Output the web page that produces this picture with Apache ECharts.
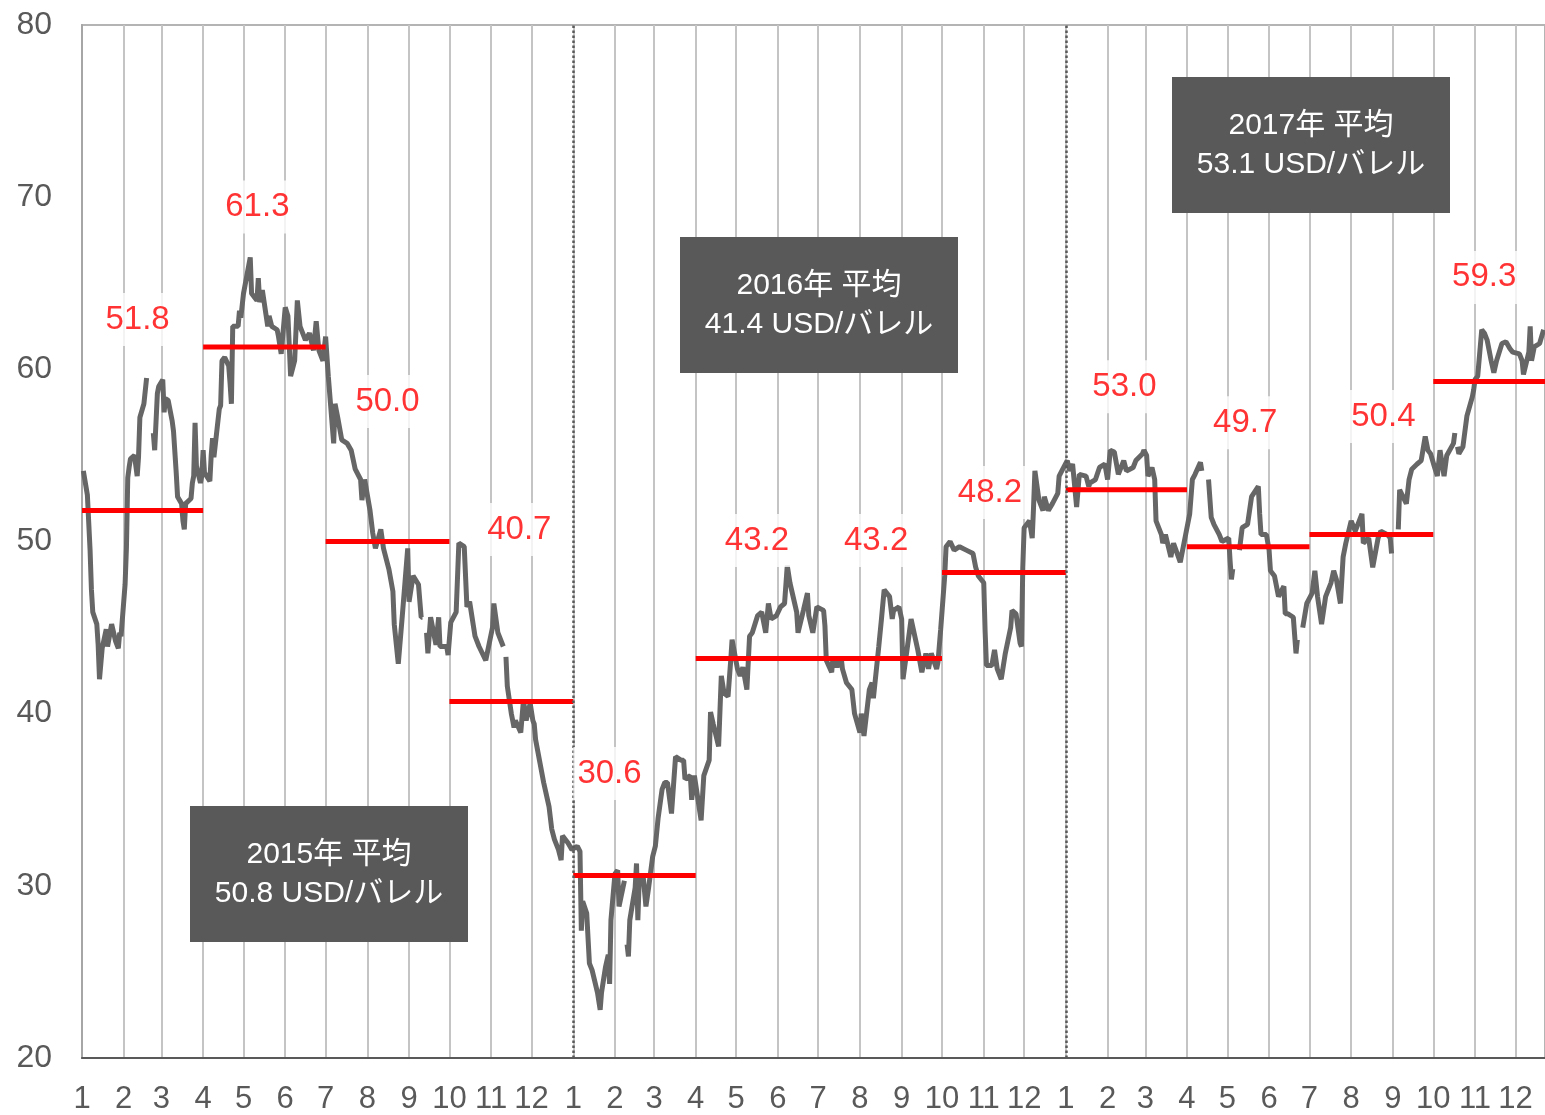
<!DOCTYPE html>
<html>
<head>
<meta charset="utf-8">
<script src="https://cdn.jsdelivr.net/npm/echarts@6/dist/echarts.min.js"></script>
<style>
  html, body { margin: 0; padding: 0; background: #fff; }
  #chart { width: 1545px; height: 1115px; }
</style>
</head>
<body>
<div id="chart"></div>
<script>
// daily crude price (USD/bbl); null = gap in the line
const price2015 = [
  ['01-02', 54.1], ['01-05', 52.7], ['01-07', 49.5], ['01-08', 47.2], ['01-09', 45.9], ['01-12', 45.2], ['01-13', 44.0], ['01-14', 42.0],
  ['01-16', 43.8], ['01-19', 44.9], ['01-20', 43.9], ['01-23', 45.2], ['01-26', 44.2], ['01-28', 43.8], ['01-29', 44.7], ['01-30', 44.5],
  ['02-02', 47.5], ['02-03', 49.6], ['02-04', 53.7], ['02-05', 54.3], ['02-06', 54.8], ['02-09', 55.0], ['02-11', 53.8], ['02-12', 54.9],
  ['02-13', 57.2], ['02-16', 58.0], ['02-18', 59.5], ['02-20', null], ['02-23', 56.3], ['02-24', 55.3], ['02-26', 58.6], ['02-27', 59.0],
  ['03-02', 59.4], ['03-03', 57.5], ['03-04', 58.3], ['03-06', 58.2], ['03-09', 57.0], ['03-10', 56.4], ['03-12', 54.0], ['03-13', 52.6],
  ['03-16', 52.2], ['03-17', 51.2], ['03-18', 50.7], ['03-19', 52.2], ['03-23', 52.5], ['03-24', 53.4], ['03-25', 53.8], ['03-26', 56.9],
  ['03-27', 54.4], ['03-30', 53.4], ['03-31', 53.8],
  ['04-01', 55.3], ['04-02', 54.0], ['04-06', 53.5], ['04-07', 55.0], ['04-08', 56.0], ['04-09', 54.9], ['04-13', 57.7], ['04-14', 57.9],
  ['04-15', 60.5], ['04-17', 60.7], ['04-20', 60.2], ['04-21', 59.2], ['04-22', 58.0], ['04-23', 62.5], ['04-27', 62.5], ['04-28', 63.4], ['04-29', 63.0],
  ['05-01', 64.4], ['05-06', 66.5], ['05-07', 64.4], ['05-11', 64.0], ['05-12', 65.3], ['05-13', 63.9], ['05-15', 64.6], ['05-19', 62.5],
  ['05-20', 63.1], ['05-22', 62.5], ['05-26', 62.3], ['05-27', 61.9], ['05-29', 60.9],
  ['06-01', 63.6], ['06-03', 63.1], ['06-05', 59.6], ['06-08', 60.5], ['06-10', 64.0], ['06-12', 62.5], ['06-16', 61.7], ['06-19', 62.1],
  ['06-22', 61.1], ['06-24', 62.8], ['06-26', 61.1], ['06-29', 60.5],
  ['07-01', 61.9], ['07-03', 59.6], ['07-07', 55.7], ['07-08', 58.0], ['07-10', 57.2], ['07-13', 55.9], ['07-17', 55.7], ['07-20', 55.3],
  ['07-23', 54.2], ['07-27', 53.6], ['07-28', 52.4], ['07-30', 53.6],
  ['08-03', 51.8], ['08-05', 50.5], ['08-07', 49.6], ['08-11', 50.7], ['08-13', 49.6], ['08-17', 48.4], ['08-20', 47.1], ['08-21', 45.2],
  ['08-24', 42.9], ['08-27', 45.7], ['08-31', 49.6],
  ['09-01', 46.5], ['09-04', 48.0], ['09-08', 47.5], ['09-10', 45.6], ['09-11', 45.6], ['09-12', null], ['09-14', 44.7], ['09-15', 43.5],
  ['09-17', 45.6], ['09-21', 44.0], ['09-23', 45.6], ['09-24', 43.9], ['09-29', 43.9], ['09-30', 43.4],
  ['10-02', 45.3], ['10-06', 45.9], ['10-08', 49.9], ['10-12', 49.7], ['10-14', 46.2], ['10-16', 46.5], ['10-20', 44.5], ['10-23', 43.9], ['10-28', 43.1],
  ['11-02', 45.0], ['11-03', 46.4], ['11-06', 44.7], ['11-10', 43.9], ['11-11', null], ['11-12', 43.3], ['11-13', 41.6], ['11-16', 40.0],
  ['11-17', 39.6], ['11-18', 39.2], ['11-19', 39.6], ['11-23', 38.9], ['11-25', 40.8], ['11-27', 39.6], ['11-30', 40.6],
  ['12-02', 39.6], ['12-03', 39.4], ['12-04', 38.5], ['12-10', 36.0], ['12-14', 34.6], ['12-16', 33.3], ['12-18', 32.7], ['12-21', 32.1],
  ['12-23', 31.5], ['12-24', 32.9], ['12-28', 32.5], ['12-31', 32.1]
]
const price2016 = [
  ['01-04', 32.3], ['01-06', 32.0], ['01-07', 27.4], ['01-08', 29.1], ['01-11', 28.4], ['01-13', 25.5], ['01-15', 25.1], ['01-19', 23.8],
  ['01-21', 22.8], ['01-22', 23.8], ['01-25', 25.3], ['01-27', 26.0], ['01-28', 24.3], ['01-29', 28.0],
  ['02-01', 30.7], ['02-03', 30.9], ['02-04', 28.8], ['02-08', 30.3], ['02-09', null], ['02-10', 26.6], ['02-11', 25.9], ['02-12', 28.0],
  ['02-16', 29.9], ['02-17', 31.3], ['02-18', 28.0], ['02-19', 30.3], ['02-22', 30.5], ['02-24', 28.8], ['02-26', 29.9], ['02-29', 31.7],
  ['03-02', 32.3], ['03-04', 33.9], ['03-07', 35.6], ['03-09', 36.0], ['03-11', 36.0], ['03-14', 34.2], ['03-17', 37.5], ['03-21', 37.3],
  ['03-23', 37.3], ['03-24', 36.2], ['03-28', 36.4], ['03-29', 35.0], ['03-31', 36.4],
  ['04-05', 33.8], ['04-07', 36.4], ['04-11', 37.3], ['04-12', 40.1], ['04-14', 39.4], ['04-18', 38.1], ['04-20', 42.2], ['04-22', 41.2],
  ['04-25', 41.0], ['04-27', 43.1], ['04-28', 44.3],
  ['05-02', 42.6], ['05-04', 42.2], ['05-06', 42.7], ['05-09', 41.4], ['05-11', 44.5], ['05-13', 44.7], ['05-17', 45.7], ['05-20', 45.9],
  ['05-23', 44.7], ['05-25', 46.4], ['05-27', 45.5], ['05-31', 45.7],
  ['06-03', 46.2], ['06-06', 46.4], ['06-08', 48.6], ['06-10', 47.6], ['06-15', 45.9], ['06-16', 44.7], ['06-20', 46.0], ['06-23', 47.0],
  ['06-24', 45.7], ['06-27', 44.7], ['06-30', 46.2],
  ['07-05', 46.0], ['07-06', 45.1], ['07-07', 43.1], ['07-11', 42.4], ['07-12', 43.3], ['07-15', 42.7], ['07-18', 43.3], ['07-19', 42.6],
  ['07-22', 41.8], ['07-26', 41.4], ['07-28', 40.0],
  ['08-01', 38.9], ['08-02', 40.0], ['08-04', 38.7], ['08-08', 41.4], ['08-10', 41.8], ['08-11', 40.9], ['08-15', 43.9], ['08-17', 45.5],
  ['08-19', 47.2], ['08-23', 46.8], ['08-25', 45.5], ['08-26', 46.0], ['08-30', 46.2],
  ['09-01', 45.5], ['09-02', 42.0], ['09-06', 44.3], ['09-08', 45.5], ['09-09', 45.5], ['09-13', 43.7], ['09-16', 42.4], ['09-19', 43.5],
  ['09-21', 42.6], ['09-23', 43.5], ['09-27', 42.6], ['09-28', 43.0], ['09-30', 44.9],
  ['10-03', 48.0], ['10-04', 49.7], ['10-07', 50.0], ['10-10', 49.5], ['10-14', 49.7], ['10-19', 49.5], ['10-24', 49.3], ['10-26', 48.5], ['10-28', 48.0],
  ['11-01', 47.6], ['11-02', 44.8], ['11-03', 42.8], ['11-07', 42.8], ['11-09', 43.7], ['11-11', 42.6], ['11-14', 42.0], ['11-17', 43.5],
  ['11-21', 45.0], ['11-22', 46.0], ['11-25', 45.8], ['11-28', 44.1], ['11-29', 43.9], ['11-30', 48.5],
  ['12-01', 50.8], ['12-05', 51.2], ['12-07', 50.2], ['12-08', 52.0], ['12-09', 54.1], ['12-12', 52.4], ['12-15', 51.8], ['12-16', 52.6],
  ['12-19', 51.8], ['12-22', 52.2], ['12-26', 52.8], ['12-27', 53.8], ['12-29', 54.1]
]
const price2017 = [
  ['01-02', 54.7], ['01-04', 54.1], ['01-06', 54.5], ['01-09', 52.0], ['01-11', 53.9], ['01-16', 53.8], ['01-18', 53.2], ['01-19', 53.4],
  ['01-23', 53.6], ['01-26', 54.3], ['01-30', 54.5],
  ['02-01', 53.6], ['02-03', 55.3], ['02-06', 55.2], ['02-09', 53.9], ['02-13', 54.7], ['02-15', 54.1], ['02-20', 54.3], ['02-22', 54.7],
  ['02-27', 55.1], ['02-28', 55.3],
  ['03-02', 55.0], ['03-03', 53.8], ['03-06', 54.3], ['03-08', 53.6], ['03-09', 51.2], ['03-13', 50.4], ['03-14', 49.9], ['03-16', 50.4],
  ['03-20', 49.1], ['03-22', 49.9], ['03-27', 48.8], ['03-28', 48.7], ['03-31', 50.4],
  ['04-03', 51.6], ['04-05', 53.6], ['04-07', 53.9], ['04-11', 54.6], ['04-12', 54.1], ['04-14', null], ['04-17', 53.6], ['04-19', 51.4],
  ['04-21', 51.0], ['04-25', 50.4], ['04-27', 50.0],
  ['05-02', 50.2], ['05-03', 48.9], ['05-04', 47.8], ['05-05', 48.4], ['05-08', null], ['05-10', 49.5], ['05-12', 50.8], ['05-16', 51.0],
  ['05-19', 52.6], ['05-24', 53.2], ['05-25', 51.6], ['05-26', 50.4], ['05-30', 50.4],
  ['06-01', 49.5], ['06-02', 48.3], ['06-05', 48.0], ['06-08', 46.8], ['06-12', 47.4], ['06-13', 45.8], ['06-15', 45.8], ['06-19', 45.6],
  ['06-21', 43.5], ['06-22', 44.3], ['06-23', null], ['06-26', 45.0], ['06-29', 46.4],
  ['07-03', 47.0], ['07-05', 48.3], ['07-07', 46.8], ['07-10', 45.2], ['07-13', 46.8], ['07-17', 47.6], ['07-19', 48.3], ['07-21', 47.8],
  ['07-24', 46.4], ['07-26', 49.1], ['07-28', 49.9],
  ['08-01', 51.2], ['08-04', 50.6], ['08-07', 51.2], ['08-09', 51.6], ['08-10', 49.9], ['08-14', 50.2], ['08-17', 48.5], ['08-21', 50.2],
  ['08-23', 50.6], ['08-28', 50.4], ['08-30', 50.2], ['08-31', 49.3], ['09-01', null],
  ['09-05', 50.7], ['09-06', 53.0], ['09-11', 52.2], ['09-13', 53.6], ['09-15', 54.2], ['09-19', 54.5], ['09-22', 54.7], ['09-25', 56.1],
  ['09-27', 55.3], ['09-29', 55.1],
  ['10-02', 54.3], ['10-04', 53.8], ['10-06', 55.3], ['10-09', 53.8], ['10-11', 55.0], ['10-16', 55.7], ['10-17', 56.3], ['10-18', null],
  ['10-19', 55.5], ['10-20', 55.1], ['10-23', 55.5], ['10-24', 56.1], ['10-26', 57.3], ['10-30', 58.4], ['10-31', 58.8],
  ['11-01', 59.4], ['11-03', 59.6], ['11-06', 62.3], ['11-08', 62.1], ['11-10', 61.7], ['11-13', 60.5], ['11-15', 59.8], ['11-17', 60.5],
  ['11-21', 61.5], ['11-24', 61.6], ['11-27', 61.2], ['11-29', 61.0],
  ['12-04', 60.9], ['12-06', 60.5], ['12-07', 59.7], ['12-11', 61.0], ['12-12', 62.5], ['12-13', 60.5], ['12-15', 61.3], ['12-19', 61.5], ['12-22', 62.3]
]

// quarterly averages (2015 Q1 .. 2017 Q4) and yearly averages
const quarterAvg = [51.8, 61.3, 50.0, 40.7, 30.6, 43.2, 43.2, 48.2, 53.0, 49.7, 50.4, 59.3]
const years = [2015, 2016, 2017]
const yearAvg = [50.8, 41.4, 53.1]

const FONT = "'Liberation Sans', Arial, 'Noto Sans CJK JP', sans-serif"
const xMin = Date.UTC(2015, 0, 1)
const xMax = Date.UTC(2017, 11, 23)

const toTime = (year, md) => {
  const [m, d] = md.split('-').map(Number)
  return Date.UTC(year, m - 1, d)
}
const priceData = []
;[price2015, price2016, price2017].forEach((arr, i) => {
  arr.forEach(([md, v]) => priceData.push([toTime(years[i], md), v]))
})

const monthStarts = []
years.forEach(y => { for (let m = 0; m < 12; m++) monthStarts.push(Date.UTC(y, m, 1)) })

// red quarter segments, broken between quarters
const avgLine = []
const avgLabels = []
// label shift from the middle of each segment, px
const labelShift = [[-5, -191], [-7, -140], [0, -140], [8, -172], [-25, -102], [0, -118],
  [-4, -118], [-14, -80], [-2, -103], [-3, -124], [12, -118], [-5, -104]]
quarterAvg.forEach((v, i) => {
  const y = years[Math.floor(i / 4)]
  const q = i % 4
  const start = Date.UTC(y, q * 3, 1)
  const end = i === quarterAvg.length - 1 ? xMax : Date.UTC(y, q * 3 + 3, 1)
  avgLine.push([start, v], [end, v], [end, null])
  avgLabels.push({ value: [(start + end) / 2, v], label: { offset: labelShift[i] } })
})

// yearly average boxes (pixel layout)
const boxPos = [[190, 806], [680, 237], [1172, 77]]
const boxes = []
years.forEach((y, i) => {
  const [left, top] = boxPos[i]
  boxes.push({
    type: 'rect',
    z: 100,
    shape: { x: left, y: top, width: 278, height: 136 },
    style: { fill: '#595959' }
  })
  boxes.push({
    type: 'text',
    z: 101,
    x: left + 139,
    y: top + 68,
    style: {
      text: y + '年 平均\n' + yearAvg[i].toFixed(1) + ' USD/バレル',
      fill: '#fff',
      font: '30px ' + FONT,
      align: 'center',
      verticalAlign: 'middle',
      lineHeight: 39
    }
  })
})

const chart = echarts.init(document.getElementById('chart'))
chart.setOption({
  animation: false,
  grid: { left: 82, right: 0, top: 25, bottom: 57, show: true, borderColor: '#b4b4b4', borderWidth: 2 },
  xAxis: {
    type: 'value',
    min: xMin,
    max: xMax,
    axisLine: { show: true, lineStyle: { color: '#595959', width: 2 } },
    axisTick: { show: false, customValues: monthStarts },
    splitLine: { show: true, lineStyle: { color: '#c4c4c4', width: 2 } },
    axisLabel: {
      customValues: monthStarts,
      formatter: v => String(new Date(v).getUTCMonth() + 1),
      fontFamily: FONT,
      fontSize: 31,
      color: '#595959',
      margin: 26,
      showMinLabel: true,
      showMaxLabel: true
    }
  },
  yAxis: {
    type: 'value',
    min: 20,
    max: 80,
    interval: 10,
    axisLine: { show: true, lineStyle: { color: '#a6a6a6', width: 2 } },
    axisTick: { show: false },
    splitLine: { show: false },
    axisLabel: { fontFamily: FONT, fontSize: 32, color: '#595959', margin: 30 }
  },
  graphic: { elements: boxes },
  series: [
    {
      name: 'price',
      type: 'line',
      data: priceData,
      showSymbol: false,
      connectNulls: false,
      lineStyle: { color: '#666666', width: 5 },
      z: 3,
      markLine: {
        silent: true,
        symbol: 'none',
        label: { show: false },
        lineStyle: { color: '#595959', width: 2.5, type: 'dotted' },
        data: [{ xAxis: Date.UTC(2016, 0, 1) }, { xAxis: Date.UTC(2017, 0, 1) }]
      }
    },
    {
      name: 'quarter',
      type: 'line',
      data: avgLine,
      showSymbol: false,
      connectNulls: false,
      lineStyle: { color: '#ff0000', width: 5 },
      z: 4
    },
    {
      name: 'quarterLabel',
      type: 'scatter',
      data: avgLabels,
      symbolSize: 0,
      z: 5,
      label: {
        show: true,
        position: 'inside',
        formatter: p => p.value[1].toFixed(1),
        fontFamily: FONT,
        fontSize: 33,
        color: '#ff0000',
        backgroundColor: '#ffffff',
        padding: [10, 4]
      }
    }
  ]
})
</script>
</body>
</html>
